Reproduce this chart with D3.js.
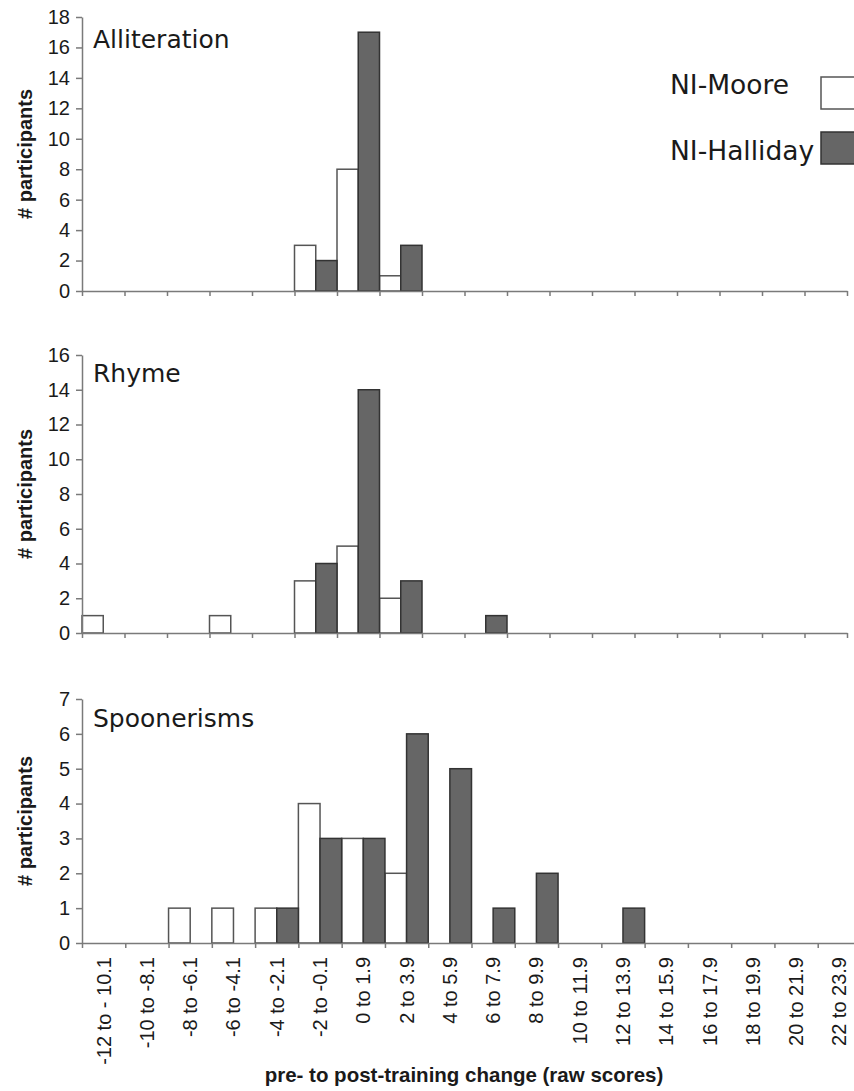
<!DOCTYPE html>
<html>
<head>
<meta charset="utf-8">
<title>Pre- to post-training change</title>
<script src="https://d3js.org/d3.v7.min.js"></script>
<style>
    body { margin: 0; background: #fff; }
    .axis path, .axis line { stroke: #7a7a7a; stroke-width: 1.5; }
    .axis text { font-family: "Liberation Sans", Arial, sans-serif; font-size: 20px; fill: #1a1a1a; }
    .title { font-family: "DejaVu Sans", Verdana, sans-serif; font-size: 25px; fill: #1a1a1a; }
    .legtext { font-family: "DejaVu Sans", Verdana, sans-serif; font-size: 26.5px; fill: #1a1a1a; }
    .catlab { font-family: "Liberation Sans", Arial, sans-serif; font-size: 20px; fill: #1a1a1a; }
    .ylab { font-family: "Liberation Sans", Arial, sans-serif; font-size: 20px; font-weight: bold; fill: #1a1a1a; }
    .xlab { font-family: "Liberation Sans", Arial, sans-serif; font-size: 20.5px; font-weight: bold; fill: #1a1a1a; }
    .moore { fill: #fff; stroke: #555; stroke-width: 1.5; }
    .halliday { fill: #666; stroke: #333; stroke-width: 1.5; }
</style>
</head>
<body>
<script>
// score-change bins
var categories = ["-12 to - 10.1", "-10 to -8.1", "-8 to -6.1", "-6 to -4.1", "-4 to -2.1",
    "-2 to -0.1", "0 to 1.9", "2 to 3.9", "4 to 5.9", "6 to 7.9", "8 to 9.9", "10 to 11.9",
    "12 to 13.9", "14 to 15.9", "16 to 17.9", "18 to 19.9", "20 to 21.9", "22 to 23.9"];

var series = ["NI-Moore", "NI-Halliday"];

// number of participants per bin
var allitMoore    = [0, 0, 0, 0, 0, 3, 8, 1, 0, 0, 0, 0, 0, 0, 0, 0, 0, 0];
var allitHalliday = [0, 0, 0, 0, 0, 2, 17, 3, 0, 0, 0, 0, 0, 0, 0, 0, 0, 0];
var rhymeMoore    = [1, 0, 0, 1, 0, 3, 5, 2, 0, 0, 0, 0, 0, 0, 0, 0, 0, 0];
var rhymeHalliday = [0, 0, 0, 0, 0, 4, 14, 3, 0, 1, 0, 0, 0, 0, 0, 0, 0, 0];
var spoonMoore    = [0, 0, 1, 1, 1, 4, 3, 2, 0, 0, 0, 0, 0, 0, 0, 0, 0, 0];
var spoonHalliday = [0, 0, 0, 0, 1, 3, 3, 6, 5, 1, 2, 0, 1, 0, 0, 0, 0, 0];

// y tick values per panel
var allitTicks = [0, 2, 4, 6, 8, 10, 12, 14, 16, 18];
var rhymeTicks = [0, 2, 4, 6, 8, 10, 12, 14, 16];
var spoonTicks = [0, 1, 2, 3, 4, 5, 6, 7];

var width = 854, height = 1091;

var svg = d3.select("body").append("svg")
    .attr("width", width)
    .attr("height", height);

var panels = [
    { name: "Alliteration", moore: allitMoore, halliday: allitHalliday, ticks: allitTicks,
      top: 17, bottom: 291, left: 82, right: 847, titleY: 48 },
    { name: "Rhyme", moore: rhymeMoore, halliday: rhymeHalliday, ticks: rhymeTicks,
      top: 355, bottom: 633, left: 82, right: 847, titleY: 382 },
    { name: "Spoonerisms", moore: spoonMoore, halliday: spoonHalliday, ticks: spoonTicks,
      top: 699, bottom: 943, left: 82, right: 861, titleY: 727 }
];

function binData(vals) {
    return vals.map(function(v, k) { return { c: categories[k], v: v }; })
        .filter(function(d) { return d.v > 0; });
}

panels.forEach(function(p, i) {
    var g = svg.append("g");

    var x = d3.scaleBand()
        .domain(categories)
        .range([p.left, p.right])
        .padding(0);

    var xEdges = d3.scaleLinear()
        .domain([0, categories.length])
        .range([p.left, p.right]);

    var y = d3.scaleLinear()
        .domain([0, d3.max(p.ticks)])
        .range([p.bottom, p.top]);

    var half = x.bandwidth() / 2;

    // NI-Moore bars (left half of each bin)
    g.selectAll(".moore")
        .data(binData(p.moore))
        .enter().append("rect")
        .attr("class", "moore")
        .attr("x", function(d) { return x(d.c); })
        .attr("width", half)
        .attr("y", function(d) { return y(d.v); })
        .attr("height", function(d) { return y(0) - y(d.v); });

    // NI-Halliday bars (right half)
    g.selectAll(".halliday")
        .data(binData(p.halliday))
        .enter().append("rect")
        .attr("class", "halliday")
        .attr("x", function(d) { return x(d.c) + half; })
        .attr("width", half)
        .attr("y", function(d) { return y(d.v); })
        .attr("height", function(d) { return y(0) - y(d.v); });

    // x axis with ticks at bin edges
    g.append("g")
        .attr("class", "axis")
        .attr("transform", "translate(0," + p.bottom + ")")
        .call(d3.axisBottom(xEdges).ticks(categories.length).tickSize(5).tickSizeOuter(0).tickFormat(""));

    // y axis
    g.append("g")
        .attr("class", "axis")
        .attr("transform", "translate(" + p.left + ",0)")
        .call(d3.axisLeft(y).tickValues(p.ticks).tickFormat(d3.format("d"))
            .tickSize(6).tickSizeOuter(0).tickPadding(6));

    g.append("text")
        .attr("class", "title")
        .attr("x", 93)
        .attr("y", p.titleY)
        .text(p.name);

    g.append("text")
        .attr("class", "ylab")
        .attr("transform", "translate(32," + ((p.top + p.bottom) / 2) + ") rotate(-90)")
        .attr("text-anchor", "middle")
        .text("# participants");

    // category labels only under the last panel
    if (i === panels.length - 1) {
        g.selectAll(".catlab")
            .data(categories)
            .enter().append("text")
            .attr("class", "catlab")
            .attr("text-anchor", "end")
            .attr("transform", function(d) {
                return "translate(" + (x(d) + half) + "," + (p.bottom + 14) + ") rotate(-90)";
            })
            .attr("dy", "0.35em")
            .text(function(d) { return d; });

        g.append("text")
            .attr("class", "xlab")
            .attr("x", 464)
            .attr("y", 1082)
            .attr("text-anchor", "middle")
            .text("pre- to post-training change (raw scores)");
    }
});

// legend
var legend = svg.append("g");
var legendTextY = [94, 160];
var legendBoxY = [77, 132];
series.forEach(function(s, k) {
    legend.append("text")
        .attr("class", "legtext")
        .attr("x", 670)
        .attr("y", legendTextY[k])
        .text(s);
    legend.append("rect")
        .attr("class", k === 0 ? "moore" : "halliday")
        .attr("x", 821)
        .attr("y", legendBoxY[k])
        .attr("width", 34)
        .attr("height", 32);
});
</script>
</body>
</html>
